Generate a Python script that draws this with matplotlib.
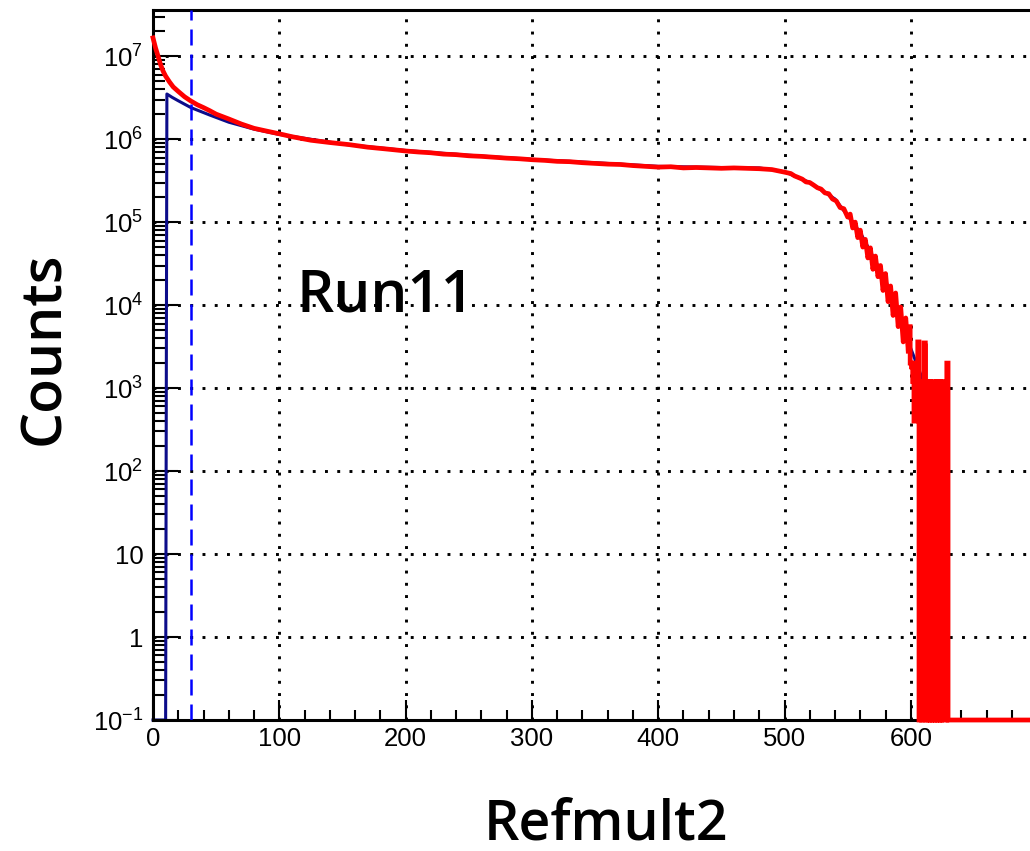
import numpy as np
import matplotlib
matplotlib.use("Agg")
import matplotlib.pyplot as plt
from matplotlib.ticker import FixedLocator, LogLocator, MultipleLocator, NullFormatter

plt.rcParams['font.family'] = ['Liberation Sans', 'DejaVu Sans']
plt.rcParams['mathtext.fontset'] = 'custom'
plt.rcParams['mathtext.rm'] = 'Liberation Sans'
plt.rcParams['mathtext.it'] = 'Liberation Sans'
plt.rcParams['mathtext.bf'] = 'Liberation Sans:bold'
plt.rcParams['path.simplify'] = False

# ---------------- data ----------------
red_x = [0, 2, 4, 6, 8, 10, 13, 16, 20, 25, 30, 35, 40, 45, 50, 60, 70,
         80, 90, 100, 110, 125, 140, 155, 170, 185, 200,
         210, 220, 230, 240, 250, 260, 270, 280, 290, 300, 310, 320, 330, 340, 350,
         360, 370, 380, 390, 400, 410, 420, 430, 440, 450, 460, 470, 480, 490, 500,
         505, 508, 511, 514, 517, 520, 523, 526, 529, 532, 535, 538, 541, 544, 547,
         550, 552, 554, 556, 558, 560, 562, 564, 566, 568, 570, 572, 574, 576, 578,
         580, 582, 584, 586, 588, 590, 592, 594, 596, 598, 599, 600,
         601, 602, 603, 604, 605, 606, 607, 608, 609, 610, 611, 612, 613, 614, 615,
         616, 617, 618, 619, 620, 621, 622, 623, 624, 625, 626, 627, 628, 629, 630,
         700]
red_y = [1.66e7, 1.26e7, 1.0e7, 7.9e6, 6.6e6, 5.75e6, 4.9e6, 4.26e6, 3.76e6,
         3.24e6, 2.88e6, 2.6e6, 2.4e6, 2.2e6, 2.0e6, 1.75e6, 1.52e6,
         1.35e6, 1.25e6, 1.16e6, 1.07e6, 9.7e5, 9.1e5, 8.6e5, 8.0e5, 7.6e5, 7.2e5,
         7.0e5, 6.85e5, 6.6e5, 6.5e5, 6.3e5, 6.2e5, 6.05e5, 5.9e5, 5.8e5, 5.65e5,
         5.55e5, 5.4e5, 5.35e5, 5.2e5, 5.1e5, 5.0e5, 4.95e5, 4.8e5, 4.7e5, 4.6e5,
         4.65e5, 4.5e5, 4.55e5, 4.5e5, 4.45e5, 4.5e5, 4.45e5, 4.4e5, 4.3e5, 4.0e5,
         3.85e5, 3.6e5, 3.45e5, 3.3e5, 3.05e5, 3.0e5, 2.8e5, 2.6e5, 2.5e5, 2.25e5,
         2.2e5, 1.9e5, 1.8e5, 1.5e5, 1.45e5,
         1.15e5, 1.25e5, 8.5e4, 1.0e5, 6.5e4, 8.0e4, 5.0e4, 6.2e4, 3.7e4, 4.9e4,
         2.7e4, 3.9e4, 2.2e4, 3.0e4, 1.5e4,
         2.4e4, 1.1e4, 1.7e4, 7.5e3, 1.4e4, 5.5e3, 9.5e3, 3.6e3, 7.0e3, 2.8e3,
         5.5e3, 2.0e3,
         1.8e3, 1.2e3, 4.0e2, 2.0e3, 5.0e2, 3.6e3, 0, 1.2e3, 0, 1.1e3,
         3.5e3, 0, 1.2e3, 0, 1.2e3, 0, 1.0e3, 0, 1.2e3, 0,
         1.2e3, 0, 1.2e3, 0, 1.2e3, 0, 0, 0, 2.0e3, 0,
         0]

blue_x = [0, 10, 11, 15, 20, 30, 45, 60, 80, 100, 150, 200, 250, 300, 350, 400,
          450, 480, 500, 520, 540, 560, 580, 600, 610, 620, 625, 626, 700]
blue_y = [0, 0, 3.5e6, 3.2e6, 2.9e6, 2.4e6, 1.95e6, 1.6e6, 1.32e6, 1.14e6, 8.7e5,
          7.3e5, 6.4e5, 5.7e5, 5.2e5, 4.7e5, 4.55e5, 4.5e5, 4.05e5, 3.0e5, 1.9e5,
          7.5e4, 2.0e4, 3.0e3, 1.2e3, 5.0e2, 3.0e2, 0, 0]

cut_x = 30
tail_start = 598
block_start = 607
x_major = [0, 100, 200, 300, 400, 500, 600]
y_major = [1e-1, 1, 10, 1e2, 1e3, 1e4, 1e5, 1e6, 1e7]
y_labels = [r'$10^{-1}$', '1', '10', r'$10^{2}$', r'$10^{3}$', r'$10^{4}$',
            r'$10^{5}$', r'$10^{6}$', r'$10^{7}$']
x_range = (0, 700)
y_range = (1e-1, 3.6e7)

# ---------------- figure ----------------
W, H = 1030, 851
fig = plt.figure(figsize=(W / 100, H / 100), dpi=100)
ax_w = 700 * 1.263
ax = fig.add_axes([153 / W, (H - 720) / H, ax_w / W, 710 / H])
ax.set_xlim(*x_range)
ax.set_ylim(*y_range)
ax.set_yscale('log')

ymin = y_range[0]
bx = np.array(blue_x, dtype=float)
by = np.array(blue_y, dtype=float)
by = np.where(by > 0, by, ymin)
rx = np.array(red_x, dtype=float)
ry = np.array(red_y, dtype=float)
ry = np.where(ry > 0, ry, ymin)

ax.plot(bx, by, color='#0c0c8a', lw=2.2, zorder=3, clip_on=False)
head = rx <= tail_start
tail = rx >= tail_start
ax.plot(rx[head], ry[head], color='#ff0000', lw=3.4, zorder=4, clip_on=False)
ax.plot(rx[tail], ry[tail], color='#ff0000', lw=3.4, zorder=4, clip_on=False,
        drawstyle='steps-mid', snap=False, solid_joinstyle='miter')
# sparse bins at the end: each bin drawn as a column down to the floor
block = (rx >= block_start) & (rx < x_range[1])
ax.vlines(rx[block], ymin, ry[block], color='#ff0000', lw=3.4, zorder=4,
          clip_on=False)
ax.axvline(cut_x, color='#0000ff', lw=1.8, ls=(0, (6.4, 3.6)), zorder=6)

# axes / grid
ax.xaxis.set_major_locator(FixedLocator(x_major))
ax.xaxis.set_minor_locator(MultipleLocator(20))
ax.yaxis.set_major_locator(FixedLocator(y_major))
ax.yaxis.set_minor_locator(LogLocator(base=10, subs=np.arange(2, 10), numticks=20))
ax.yaxis.set_minor_formatter(NullFormatter())
ax.set_yticklabels(y_labels)
ax.grid(True, which='major', color='black', lw=2.1, ls=(0, (1, 3.2)), zorder=1)
ax.set_axisbelow(True)

for s in ax.spines.values():
    s.set_linewidth(2.2)
    s.set_zorder(3.5)

ax.tick_params(axis='both', which='both', direction='in', top=False, right=False,
               width=1.5, colors='black')
ax.tick_params(axis='y', which='major', length=18, labelsize=18.5, pad=7)
ax.tick_params(axis='y', which='minor', length=8.5)
ax.tick_params(axis='x', which='major', length=14.5, labelsize=18.5, pad=5)
ax.tick_params(axis='x', which='minor', length=7.2)

big = dict(family=['Open Sans', 'Liberation Sans', 'DejaVu Sans'], weight='semibold')
fig.text(297 / W, 1 - 312 / H, 'Run11', fontsize=42, ha='left', va='baseline', **big)
fig.text(45 / W, 1 - 348 / H, 'Counts', fontsize=41, rotation=90,
         ha='center', va='center', **big)
fig.text(606 / W, 1 - 839 / H, 'Refmult2', fontsize=40, ha='center', va='baseline', **big)

fig.savefig('out.png', dpi=100)
